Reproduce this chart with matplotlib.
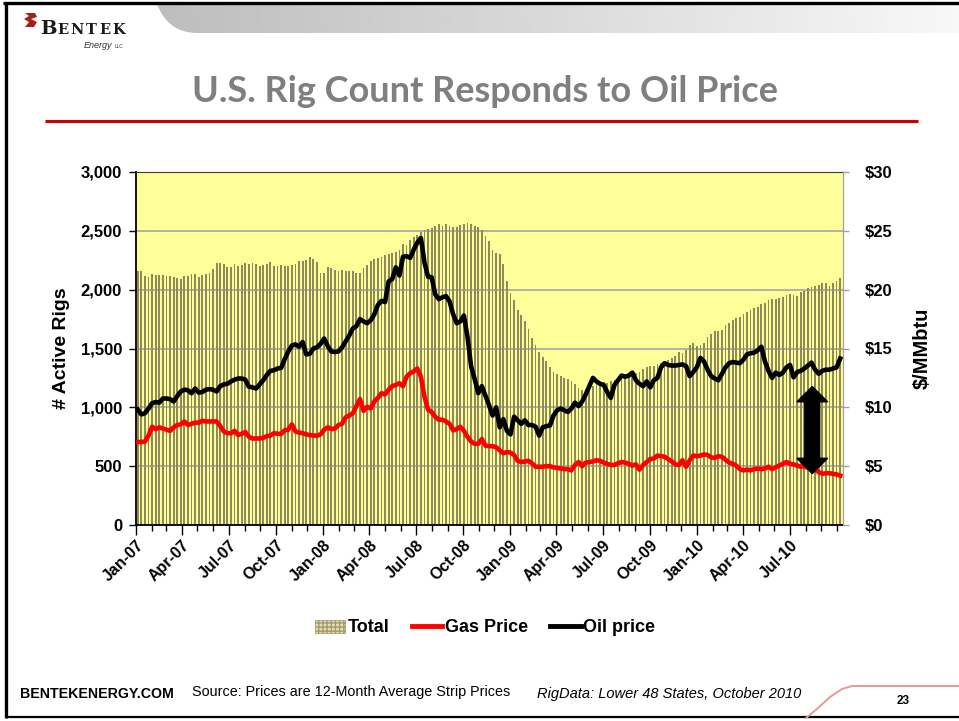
import matplotlib
matplotlib.use('Agg')
import matplotlib.pyplot as plt
import matplotlib.dates as mdates
from matplotlib.patches import Patch, FancyArrow, PathPatch, Polygon
from matplotlib.lines import Line2D
from matplotlib.path import Path
from matplotlib.ticker import FuncFormatter, MultipleLocator
import numpy as np
import pandas as pd

plt.rcParams['font.family'] = ['Liberation Sans', 'DejaVu Sans']
plt.rcParams['font.weight'] = 'bold'

# weekly active rigs (Lower 48), Jan-07 .. Oct-10
rigs = [2160, 2155, 2115, 2110, 2130, 2125, 2125, 2125, 2120, 2115,
        2110, 2100, 2090, 2115, 2115, 2130, 2130, 2110, 2125, 2135,
        2140, 2175, 2230, 2230, 2220, 2190, 2190, 2215, 2200, 2210,
        2230, 2220, 2225, 2220, 2200, 2210, 2215, 2235, 2200, 2200,
        2210, 2200, 2205, 2210, 2220, 2245, 2240, 2250, 2275, 2260,
        2235, 2145, 2145, 2190, 2180, 2165, 2160, 2165, 2155, 2160,
        2155, 2140, 2140, 2180, 2210, 2240, 2260, 2265, 2280, 2295,
        2300, 2310, 2320, 2340, 2390, 2380, 2420, 2445, 2465, 2490,
        2505, 2515, 2525, 2540, 2555, 2545, 2560, 2545, 2535, 2530,
        2550, 2560, 2570, 2560, 2545, 2530, 2510, 2455, 2415, 2340,
        2310, 2305, 2220, 2070, 1970, 1915, 1830, 1785, 1735, 1665,
        1585, 1530, 1470, 1430, 1395, 1340, 1300, 1285, 1265, 1250,
        1240, 1220, 1195, 1165, 1150, 1145, 1160, 1180, 1200, 1215,
        1215, 1205, 1225, 1235, 1230, 1255, 1265, 1270, 1280, 1290,
        1300, 1325, 1345, 1350, 1355, 1370, 1380, 1390, 1400, 1420,
        1440, 1470, 1460, 1490, 1530, 1550, 1520, 1530, 1550, 1600,
        1625, 1645, 1650, 1660, 1700, 1720, 1740, 1755, 1770, 1790,
        1810, 1830, 1840, 1855, 1875, 1890, 1910, 1920, 1920, 1930,
        1940, 1955, 1960, 1955, 1945, 1980, 1990, 2010, 2025, 2030,
        2040, 2055, 2060, 2030, 2060, 2070, 2100]

# 12-month strip prices, $/MMbtu
gas = [7.05, 7.05, 7.1, 7.6, 8.35, 8.15, 8.3, 8.2, 8.1, 8.0,
       8.3, 8.5, 8.55, 8.8, 8.5, 8.6, 8.7, 8.7, 8.85, 8.8,
       8.8, 8.8, 8.8, 8.4, 7.95, 7.8, 7.8, 8.0, 7.65, 7.75,
       7.9, 7.5, 7.35, 7.35, 7.35, 7.4, 7.55, 7.6, 7.8, 7.75,
       7.75, 8.05, 8.1, 8.55, 7.95, 7.85, 7.8, 7.7, 7.65, 7.6,
       7.6, 7.7, 8.1, 8.3, 8.15, 8.2, 8.5, 8.6, 9.15, 9.3,
       9.5, 10.1, 10.7, 9.7, 10.05, 9.9, 10.5, 10.8, 11.2, 11.1,
       11.5, 11.8, 11.9, 12.05, 11.8, 12.6, 12.9, 13.05, 13.3, 12.6,
       10.9, 9.8, 9.6, 9.2, 8.95, 8.95, 8.8, 8.6, 8.05, 8.15,
       8.35, 8.0, 7.5, 7.1, 6.9, 6.9, 7.3, 6.75, 6.7, 6.7,
       6.6, 6.35, 6.1, 6.2, 6.15, 5.95, 5.45, 5.35, 5.4, 5.45,
       5.25, 4.95, 4.95, 4.95, 5.0, 5.0, 4.9, 4.85, 4.8, 4.75,
       4.75, 4.65, 5.1, 5.35, 5.0, 5.3, 5.35, 5.4, 5.5, 5.45,
       5.3, 5.2, 5.1, 5.1, 5.25, 5.35, 5.3, 5.2, 5.05, 5.15,
       4.7, 5.1, 5.35, 5.6, 5.65, 5.9, 5.85, 5.8, 5.6, 5.4,
       5.15, 5.1, 5.5, 4.95, 5.5, 5.9, 5.85, 5.9, 6.0, 5.95,
       5.75, 5.7, 5.85, 5.8, 5.55, 5.3, 5.2, 5.05, 4.75, 4.65,
       4.7, 4.65, 4.75, 4.8, 4.75, 4.8, 4.95, 4.75, 4.9, 5.05,
       5.2, 5.35, 5.2, 5.15, 5.05, 4.95, 5.0, 4.85, 4.8, 4.7,
       4.5, 4.35, 4.4, 4.4, 4.35, 4.3, 4.2]

oil = [9.8, 9.4, 9.5, 9.9, 10.35, 10.45, 10.4, 10.75, 10.75, 10.7,
       10.5, 10.95, 11.35, 11.5, 11.45, 11.2, 11.6, 11.25, 11.3, 11.5,
       11.55, 11.5, 11.35, 11.8, 11.95, 12.0, 12.2, 12.35, 12.45, 12.45,
       12.35, 11.75, 11.7, 11.6, 11.95, 12.3, 12.75, 13.1, 13.15, 13.3,
       13.35, 14.1, 14.75, 15.25, 15.35, 15.15, 15.55, 14.5, 14.55, 15.0,
       15.1, 15.4, 15.85, 15.2, 14.75, 14.7, 14.75, 15.1, 15.6, 16.1,
       16.7, 16.9, 17.5, 17.3, 17.15, 17.4, 17.9, 18.7, 19.05, 18.95,
       20.7, 20.9, 21.9, 21.2, 22.8, 22.85, 22.7, 23.4, 24.0, 24.4,
       22.3, 21.1, 21.05, 19.6, 19.2, 19.35, 19.45, 19.0, 17.9, 17.15,
       17.3, 17.8, 16.0, 13.5, 12.4, 11.2, 11.8, 11.0, 10.2, 9.3,
       10.0, 8.3, 9.0, 8.0, 7.7, 9.2, 8.9, 8.6, 8.9, 8.5,
       8.5, 8.35, 7.6, 8.3, 8.4, 8.45, 9.3, 9.75, 9.9, 9.75,
       9.6, 9.9, 10.4, 10.1, 10.5, 11.1, 11.8, 12.5, 12.2, 12.0,
       11.9, 11.3, 10.8, 11.9, 12.3, 12.7, 12.6, 12.7, 12.95, 12.3,
       12.0, 11.8, 12.2, 11.7, 12.3, 12.5, 13.4, 13.75, 13.6, 13.55,
       13.55, 13.6, 13.65, 13.5, 12.65, 13.0, 13.4, 14.2, 13.9, 13.2,
       12.65, 12.45, 12.3, 12.85, 13.4, 13.75, 13.85, 13.8, 13.75, 14.05,
       14.5, 14.6, 14.65, 14.85, 15.15, 13.9, 13.1, 12.5, 12.95, 12.75,
       12.95, 13.4, 13.6, 12.55, 13.0, 13.1, 13.3, 13.55, 13.8, 13.2,
       12.85, 13.1, 13.2, 13.2, 13.3, 13.4, 14.15]

weeks = pd.date_range('2007-01-04 12:00', periods=len(rigs), freq='7D')
quarter_ticks = pd.date_range('2007-01-01', '2010-07-01', freq='QS')

W, H = 959, 721
fig = plt.figure(figsize=(W / 100, H / 100), dpi=100)
fig.patch.set_facecolor('white')

# slide decoration layer in pixel coordinates
deco = fig.add_axes([0, 0, 1, 1], zorder=0)
deco.set_xlim(0, W)
deco.set_ylim(H, 0)
deco.axis('off')

# banner strip with curved left end
grad = np.linspace(0.74, 0.97, 300).reshape(1, -1)
img = deco.imshow(grad, cmap='gray', vmin=0, vmax=1, aspect='auto',
                  extent=[157, W, 33, 4], zorder=1)
band = Path([(157, 4), (168, 33), (197, 33), (W, 33), (W, 4), (157, 4)],
            [Path.MOVETO, Path.CURVE3, Path.CURVE3, Path.LINETO, Path.LINETO, Path.CLOSEPOLY])
band_patch = PathPatch(band, facecolor='none', edgecolor='none', transform=deco.transData)
deco.add_patch(band_patch)
img.set_clip_path(band_patch)

# frame
deco.plot([3, W], [3, 3], color='black', lw=2.4, solid_capstyle='butt')
deco.plot([6, 6], [3, 718], color='black', lw=2.4, solid_capstyle='butt')
deco.plot([6, W], [717, 717], color='black', lw=1.6, solid_capstyle='butt')

# logo
deco.add_patch(Polygon([(25, 13), (35, 13), (37, 17), (31, 19), (37, 22), (34, 27),
                        (25, 27), (29, 22), (24, 19), (29, 16)],
                       closed=True, facecolor='#a3201c', edgecolor='none'))
deco.text(40, 34, 'B', fontsize=14, fontweight='bold', family='DejaVu Serif',
          color='#1a1a1a', va='baseline')
for ch, xp in zip('ENTEK', [63, 77, 91, 105, 119]):
    deco.text(xp, 34, ch, fontsize=10.5, fontweight='bold', family='DejaVu Serif',
              color='#1a1a1a', va='baseline', ha='center')
deco.text(84, 48, 'Energy', fontsize=6.5, style='italic', fontweight='normal',
          color='#333333', va='baseline')
deco.text(115, 48, 'LLC', fontsize=3.5, fontweight='normal', color='#333333', va='baseline')

# title and rule
deco.text(485, 91, 'U.S. Rig Count Responds to Oil Price', fontsize=26, fontweight='bold',
          family=['Lato', 'DejaVu Sans'], color='#7f7f7f', ha='center', va='center')
deco.plot([45, 918], [121, 121], color='#d00000', lw=2.2, solid_capstyle='butt')

# footer
deco.text(20, 694, 'BENTEKENERGY.COM', fontsize=10.2, fontweight='bold', va='center')
deco.text(192, 692, 'Source: Prices are 12-Month Average Strip Prices', fontsize=10.4,
          fontweight='normal', va='center')
deco.text(537, 694, 'RigData: Lower 48 States, October 2010', fontsize=10.5,
          fontweight='normal', style='italic', va='center')
deco.text(903, 701, '23', fontsize=8.5, fontweight='bold', ha='center', va='center')
deco.plot([806, 818, 830, 842, 852, W], [718, 708, 697, 689, 686, 686],
          color='#e59a9a', lw=1.4)

# main chart
ax = fig.add_axes([136 / W, 1 - 525 / H, 707 / W, 353 / H], zorder=2)
ax.set_facecolor('#ffff99')
ax.bar(weeks, rigs, width=3.5, color='#8e8a5b', align='center', zorder=2)
ax.set_ylim(0, 3000)
ax.yaxis.set_major_locator(MultipleLocator(500))
ax.yaxis.set_major_formatter(FuncFormatter(lambda v, p: f'{int(v):,}'))
ax.grid(axis='y', color='#a6a6a6', lw=1.2)
ax.set_axisbelow(True)
ax.set_xlim(pd.Timestamp('2007-01-01'), pd.Timestamp('2010-10-13'))
ax.set_xticks(quarter_ticks)
ax.xaxis.set_minor_locator(mdates.MonthLocator())
ax.xaxis.set_major_formatter(mdates.DateFormatter('%b-%y'))
ax.tick_params(axis='x', which='major', length=7, width=1, pad=2, labelsize=11.5)
ax.tick_params(axis='x', which='minor', length=4, width=1)
ax.tick_params(axis='y', length=5, width=1, pad=5, labelsize=12)
for lbl in ax.get_xticklabels():
    lbl.set_rotation(45)
    lbl.set_ha('right')
    lbl.set_rotation_mode('anchor')
ax.spines['left'].set_linewidth(1.3)
ax.spines['bottom'].set_linewidth(1.3)
ax.spines['top'].set_color('#3a3a3a')
ax.spines['right'].set_color('#a0a0a0')
ax.set_ylabel('# Active Rigs', fontsize=14, fontweight='bold', labelpad=8)

ax2 = ax.twinx()
ax2.plot(weeks, gas, color='#ff0000', lw=3.3, solid_joinstyle='round', zorder=3)
ax2.plot(weeks, oil, color='black', lw=3.3, solid_joinstyle='round', zorder=4)
ax2.set_ylim(0, 30)
ax2.yaxis.set_major_locator(MultipleLocator(5))
ax2.yaxis.set_major_formatter(FuncFormatter(lambda v, p: f'${int(v)}'))
ax2.tick_params(axis='y', length=4, width=1, color='#a0a0a0', pad=12, labelsize=12)
for s in ['left', 'bottom', 'top']:
    ax2.spines[s].set_visible(False)
ax2.spines['right'].set_color('#a0a0a0')
ax2.set_ylabel('$/MMbtu', fontsize=14.5, fontweight='bold', labelpad=14)

# double-headed arrow annotation (gap between oil and gas)
ax_x = mdates.date2num(pd.Timestamp('2010-08-14'))
for dy in (3.7, -3.7):
    ax2.add_patch(FancyArrow(ax_x, 8.07, 0, dy, width=29, head_width=60, head_length=1.3,
                             length_includes_head=True, color='black', zorder=6))

handles = [Patch(facecolor='#e4dfb6', edgecolor='#a49c70', hatch='++++', lw=0.6),
           Line2D([], [], color='#ff0000', lw=3.5),
           Line2D([], [], color='black', lw=3.5)]
fig.legend(handles, ['Total', 'Gas Price', 'Oil price'], loc='center',
           bbox_to_anchor=(485 / W, 1 - 628 / H), ncol=3, frameon=False,
           prop={'size': 13, 'weight': 'bold'}, handlelength=1.7,
           handletextpad=0.15, columnspacing=1.2)

fig.savefig('out.png', dpi=100)
